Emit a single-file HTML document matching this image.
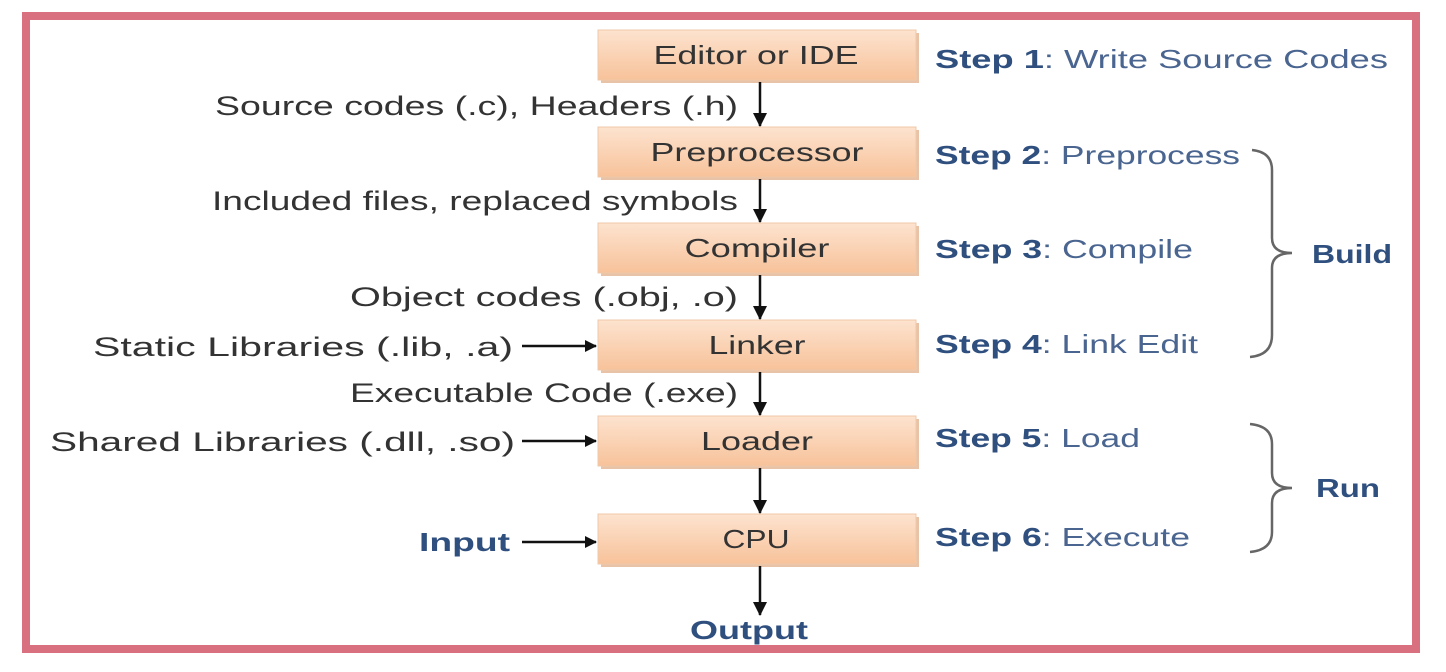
<!DOCTYPE html>
<html><head><meta charset="utf-8"><style>
html,body{margin:0;padding:0;background:#fff;width:1446px;height:672px;overflow:hidden}
text{font-family:"Liberation Sans",sans-serif}
</style></head><body>
<svg width="1446" height="672" viewBox="0 0 1446 672" xmlns="http://www.w3.org/2000/svg">
<defs>
<linearGradient id="g" x1="0" y1="0" x2="0" y2="1">
<stop offset="0" stop-color="#fde3cf"/><stop offset="1" stop-color="#f7c29a"/>
</linearGradient>
<marker id="a" markerWidth="12" markerHeight="12" refX="11" refY="6" orient="auto" markerUnits="userSpaceOnUse">
<path d="M0,0 L12,6 L0,12 z" fill="#111"/></marker>
<marker id="d" markerWidth="14" markerHeight="14" refX="7" refY="13" orient="0" markerUnits="userSpaceOnUse">
<path d="M0,0 L14,0 L7,14 z" fill="#111"/></marker>
</defs>
<rect x="26" y="16" width="1390" height="633" fill="none" stroke="#d9707f" stroke-width="8"/>
<g fill="#e9c3a8">
<rect x="601" y="33" width="318" height="50"/><rect x="601" y="130" width="318" height="50"/>
<rect x="601" y="226" width="318" height="50"/><rect x="601" y="323" width="318" height="50"/>
<rect x="601" y="419" width="318" height="50"/><rect x="601" y="517" width="318" height="50"/>
</g>
<g fill="url(#g)" stroke="#f0c8a8" stroke-width="1">
<rect x="598" y="30" width="318" height="50"/><rect x="598" y="127" width="318" height="50"/>
<rect x="598" y="223" width="318" height="50"/><rect x="598" y="320" width="318" height="50"/>
<rect x="598" y="416" width="318" height="50"/><rect x="598" y="514" width="318" height="50"/>
</g>
<g font-size="26" fill="#333" text-anchor="middle" lengthAdjust="spacingAndGlyphs">
<text x="756" y="64" textLength="205" lengthAdjust="spacingAndGlyphs">Editor or IDE</text>
<text x="757" y="161" textLength="213" lengthAdjust="spacingAndGlyphs">Preprocessor</text>
<text x="757" y="257" textLength="145" lengthAdjust="spacingAndGlyphs">Compiler</text>
<text x="757" y="354" textLength="97" lengthAdjust="spacingAndGlyphs">Linker</text>
<text x="757" y="450" textLength="112" lengthAdjust="spacingAndGlyphs">Loader</text>
<text x="756" y="548" textLength="67" lengthAdjust="spacingAndGlyphs">CPU</text>
</g>
<g stroke="#111" stroke-width="2.5">
<line x1="760" y1="82" x2="760" y2="126" marker-end="url(#d)"/>
<line x1="760" y1="179" x2="760" y2="222" marker-end="url(#d)"/>
<line x1="760" y1="275" x2="760" y2="319" marker-end="url(#d)"/>
<line x1="760" y1="372" x2="760" y2="415" marker-end="url(#d)"/>
<line x1="760" y1="468" x2="760" y2="513" marker-end="url(#d)"/>
<line x1="760" y1="566" x2="760" y2="615" marker-end="url(#d)"/>
<line x1="522" y1="346" x2="596" y2="346" marker-end="url(#a)"/>
<line x1="522" y1="441" x2="596" y2="441" marker-end="url(#a)"/>
<line x1="522" y1="542" x2="596" y2="542" marker-end="url(#a)"/>
</g>
<g font-size="27" fill="#333">
<text x="215" y="115" textLength="523" lengthAdjust="spacingAndGlyphs">Source codes (.c), Headers (.h)</text>
<text x="212" y="210" textLength="526" lengthAdjust="spacingAndGlyphs">Included files, replaced symbols</text>
<text x="350" y="306" textLength="388" lengthAdjust="spacingAndGlyphs">Object codes (.obj, .o)</text>
<text x="93" y="356" textLength="420" lengthAdjust="spacingAndGlyphs">Static Libraries (.lib, .a)</text>
<text x="350" y="402" textLength="388" lengthAdjust="spacingAndGlyphs">Executable Code (.exe)</text>
<text x="50" y="451" textLength="465" lengthAdjust="spacingAndGlyphs">Shared Libraries (.dll, .so)</text>
</g>
<g font-size="26" fill="#2f4f7f" font-weight="bold">
<text x="419" y="551" textLength="91" lengthAdjust="spacingAndGlyphs">Input</text>
<text x="690" y="639" textLength="118" lengthAdjust="spacingAndGlyphs">Output</text>
<text x="1312" y="263" textLength="80" lengthAdjust="spacingAndGlyphs">Build</text>
<text x="1316" y="497" textLength="64" lengthAdjust="spacingAndGlyphs">Run</text>
</g>
<g font-size="26" fill="#4a6590">
<text x="935" y="68" textLength="453" lengthAdjust="spacingAndGlyphs"><tspan font-weight="bold" fill="#2f4f7f">Step 1</tspan>: Write Source Codes</text>
<text x="935" y="164" textLength="305" lengthAdjust="spacingAndGlyphs"><tspan font-weight="bold" fill="#2f4f7f">Step 2</tspan>: Preprocess</text>
<text x="935" y="258" textLength="258" lengthAdjust="spacingAndGlyphs"><tspan font-weight="bold" fill="#2f4f7f">Step 3</tspan>: Compile</text>
<text x="935" y="353" textLength="263" lengthAdjust="spacingAndGlyphs"><tspan font-weight="bold" fill="#2f4f7f">Step 4</tspan>: Link Edit</text>
<text x="935" y="447" textLength="205" lengthAdjust="spacingAndGlyphs"><tspan font-weight="bold" fill="#2f4f7f">Step 5</tspan>: Load</text>
<text x="935" y="546" textLength="255" lengthAdjust="spacingAndGlyphs"><tspan font-weight="bold" fill="#2f4f7f">Step 6</tspan>: Execute</text>
</g>
<g fill="none" stroke="#666" stroke-width="2.5">
<path d="M1252,150 Q1272,152 1272,170 L1272,238 Q1272,253 1292,253 Q1272,253 1272,268 L1272,335 Q1272,355 1250,357"/>
<path d="M1250,424 Q1272,426 1272,444 L1272,473 Q1272,488 1292,488 Q1272,488 1272,503 L1272,532 Q1272,550 1250,552"/>
</g>
</svg>
</body></html>
